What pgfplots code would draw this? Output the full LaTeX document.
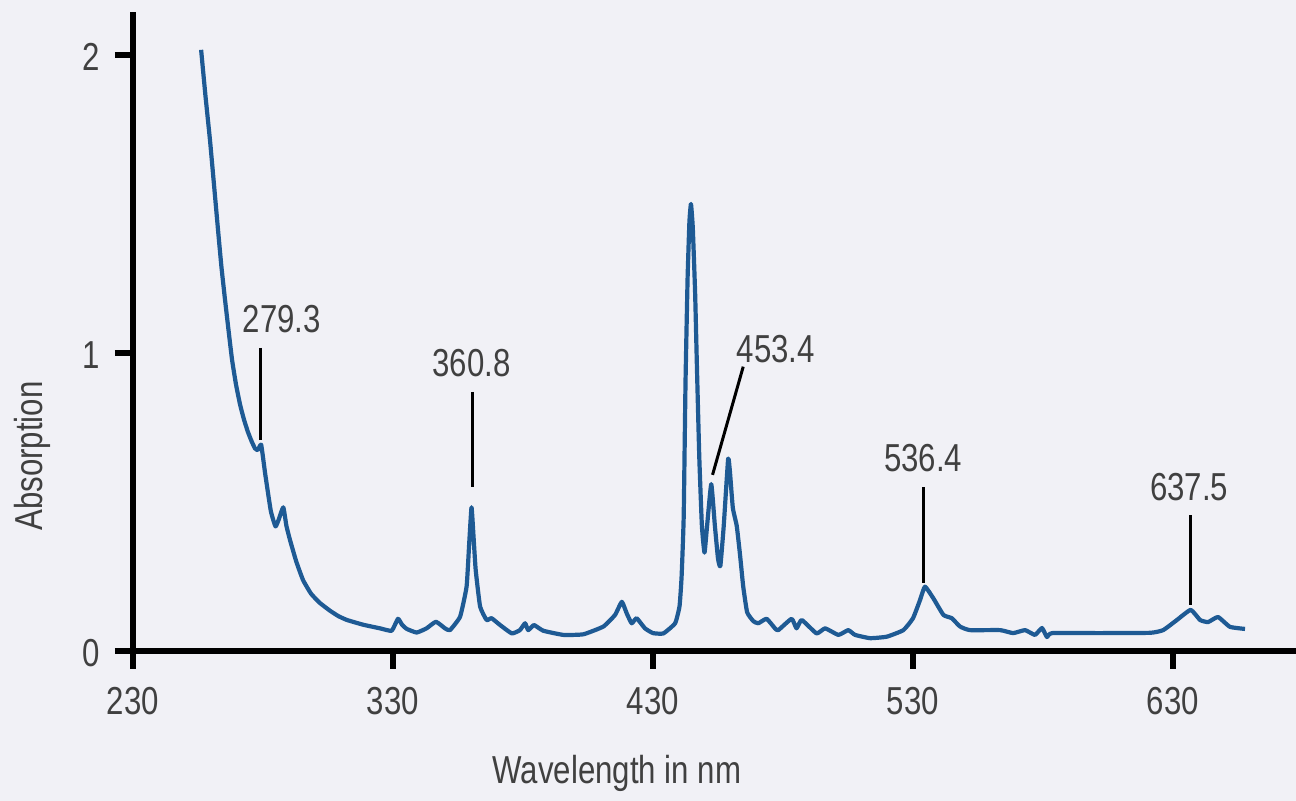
\documentclass[border=0pt]{standalone}
\usepackage{pgfplots}
\pgfplotsset{compat=1.18}
\usepackage{fontspec}
\setmainfont{Liberation Sans}[FakeStretch=0.8]
\definecolor{bg}{RGB}{241,241,246}
\definecolor{spec}{RGB}{30,90,148}
\definecolor{txt}{RGB}{64,64,64}
\begin{document}
\begin{tikzpicture}
\fill[bg] (0,0) rectangle (648pt,400.5pt);
\useasboundingbox (0,0) rectangle (648pt,400.5pt);
\begin{axis}[
  at={(66.5pt,75pt)}, anchor=south west,
  scale only axis, width=581.5pt, height=319.5pt,
  xmin=230, xmax=677.3, ymin=0, ymax=2.144,
  axis x line=bottom, axis y line=left,
  axis line style={line width=2.8pt, -, black},
  xtick={230,330,430,530,630}, ytick={0,1,2},
  tick align=outside, major tick length=9pt,
  tick style={line width=2.8pt, black},
  font=\fontsize{19.5pt}{23pt}\selectfont,
  /pgf/number format/assume math mode=true,
  /pgf/number format/1000 sep={},
  tick label style={text=txt},
  xticklabel style={yshift=-5.5pt},
  yticklabel style={xshift=-4pt, yshift=-1pt},
  xlabel={Wavelength in nm}, ylabel={Absorption},
  xlabel style={at={(rel axis cs:0.416,-0.191)}, anchor=center, text=txt},
  ylabel style={at={(rel axis cs:-0.0868,0.305)}, anchor=center, text=txt},
  clip=false,
]
\addplot[spec, line width=2.1pt, line join=round, smooth, tension=0.25] coordinates {
(256.2,2.017) (257.9,1.860) (259.6,1.715) (261.2,1.560) (262.7,1.413) (264.0,1.290) (265.4,1.178) (266.8,1.072) (268.1,0.977) (269.6,0.895) (271.2,0.826)
(272.7,0.776) (274.2,0.735) (275.6,0.704) (276.9,0.680) (278.0,0.674) (279.3,0.692) (280.8,0.597) (283.0,0.470)
(284.8,0.418) (286.0,0.440) (287.8,0.482) (289.0,0.420) (290.4,0.372) (292.8,0.300)
(295.4,0.238) (298.5,0.192) (301.9,0.161) (305.8,0.135) (309.0,0.117) (312.3,0.104) (318.6,0.088)
(325.0,0.076) (329.5,0.068) (331.9,0.108) (333.5,0.088) (335.3,0.074) (339.1,0.062)
(342.9,0.076) (346.5,0.098) (350.0,0.076) (351.9,0.070) (355.8,0.115) (358.3,0.216)
(359.3,0.360) (360.2,0.482) (361.0,0.380) (361.8,0.272) (363.5,0.149) (366.0,0.104)
(367.9,0.110) (371.2,0.087) (375.7,0.059) (378.8,0.070) (380.8,0.093) (382.0,0.070)
(384.2,0.087) (387.8,0.068) (395.5,0.054) (403.2,0.056) (410.9,0.082) (415.4,0.121)
(418.0,0.165) (419.9,0.126) (421.8,0.093) (423.7,0.110) (426.9,0.076) (430.0,0.060)
(434.0,0.059) (438.5,0.093) (440.2,0.150) (441.0,0.250) (441.8,0.450) (442.5,0.900)
(443.3,1.250) (444.0,1.440) (444.6,1.500) (445.3,1.420) (446.2,1.200) (446.9,0.950)
(447.8,0.650) (448.8,0.420) (449.8,0.330) (450.8,0.420) (452.4,0.560) (453.8,0.420)
(455.0,0.310) (455.9,0.285) (457.2,0.420) (458.9,0.645) (459.6,0.600) (460.7,0.480)
(462.2,0.420) (463.5,0.320) (464.7,0.216) (466.2,0.130) (468.6,0.100) (470.5,0.093)
(473.7,0.108) (476.9,0.076) (478.2,0.070) (483.3,0.108) (485.2,0.076) (487.2,0.104)
(492.9,0.059) (496.2,0.076) (501.3,0.054) (505.1,0.070) (507.7,0.054) (513.5,0.043)
(519.9,0.048) (526.3,0.070) (530.0,0.110) (532.7,0.171) (534.6,0.216) (537.8,0.177)
(541.7,0.121) (544.9,0.110) (548.1,0.082) (551.9,0.070) (563.5,0.070) (568.5,0.060)
(573.1,0.070) (576.9,0.054) (579.6,0.077) (581.5,0.047) (583.5,0.060) (601.9,0.060)
(621.2,0.061) (626.2,0.070) (631.5,0.104) (636.8,0.138) (640.4,0.104) (643.5,0.097)
(647.3,0.114) (651.9,0.081) (657.7,0.074)
};
\draw[black, line width=1.5pt] (axis cs:279.2,1.017) -- (axis cs:279.2,0.708);
\node[text=txt, anchor=center] at (axis cs:287.3,1.114) {279.3};
\draw[black, line width=1.5pt] (axis cs:360.4,0.869) -- (axis cs:360.4,0.550);
\node[text=txt, anchor=center] at (axis cs:360.2,0.966) {360.8};
\draw[black, line width=1.5pt] (axis cs:464.7,0.954) -- (axis cs:452.9,0.591);
\node[text=txt, anchor=center] at (axis cs:477.3,1.013) {453.4};
\draw[black, line width=1.5pt] (axis cs:534.2,0.550) -- (axis cs:534.2,0.228);
\node[text=txt, anchor=center] at (axis cs:533.9,0.648) {536.4};
\draw[black, line width=1.5pt] (axis cs:636.8,0.456) -- (axis cs:636.8,0.154);
\node[text=txt, anchor=center] at (axis cs:636.2,0.550) {637.5};
\end{axis}
\end{tikzpicture}
\end{document}
